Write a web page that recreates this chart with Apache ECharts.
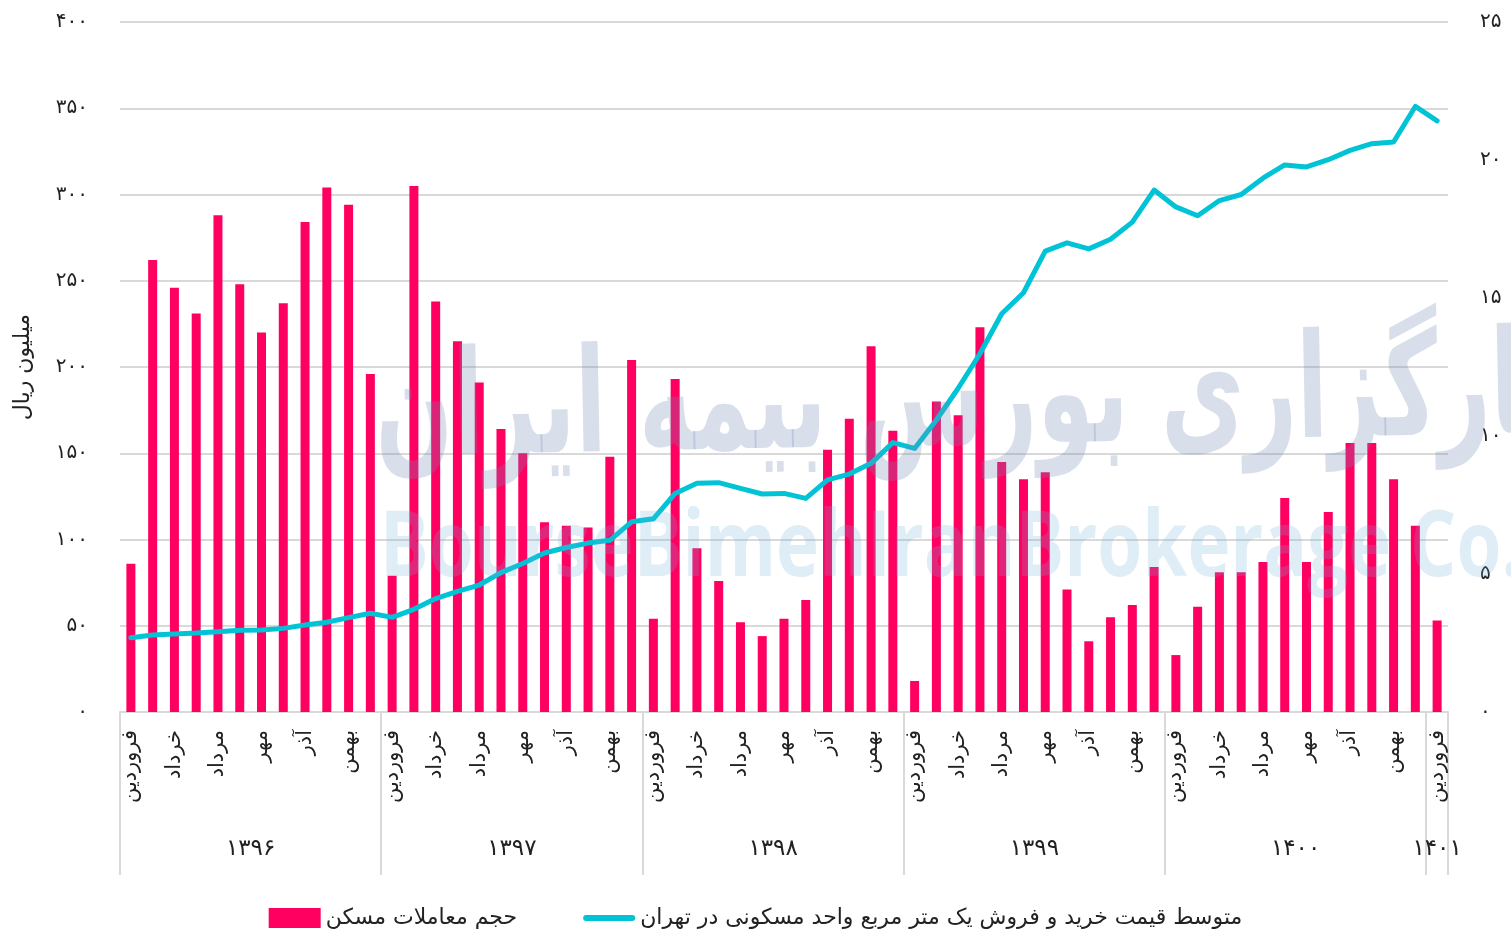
<!DOCTYPE html>
<html>
<head>
<meta charset="utf-8">
<script src="https://cdn.jsdelivr.net/npm/echarts@6/dist/echarts.min.js"></script>
<style>
  html, body { margin: 0; padding: 0; background: #fff; }
  #chart { width: 1511px; height: 929px; }
</style>
</head>
<body>
<div id="chart"></div>
<script>
// months and years
var monthNames = ['فروردین', 'اردیبهشت', 'خرداد', 'تیر', 'مرداد', 'شهریور', 'مهر', 'آبان', 'آذر', 'دی', 'بهمن', 'اسفند'];
var years = ['۱۳۹۶', '۱۳۹۷', '۱۳۹۸', '۱۳۹۹', '۱۴۰۰', '۱۴۰۱'];
var monthsInYear = [12, 12, 12, 12, 12, 1];

// حجم معاملات مسکن (left axis)
var dealVolume = [
  86, 262, 246, 231, 288, 248, 220, 237, 284, 304, 294, 196,
  79, 305, 238, 215, 191, 164, 150, 110, 108, 107, 148, 204,
  54, 193, 95, 76, 52, 44, 54, 65, 152, 170, 212, 163,
  18, 180, 172, 223, 145, 135, 139, 71, 41, 55, 62, 84,
  33, 61, 81, 81, 87, 124, 87, 116, 156, 156, 135, 108,
  53
];
// متوسط قیمت یک متر مربع (right axis)
var pricePerMeter = [
  2.69, 2.79, 2.83, 2.86, 2.91, 2.96, 2.97, 3.03, 3.15, 3.25, 3.42, 3.58,
  3.43, 3.72, 4.11, 4.37, 4.60, 5.05, 5.38, 5.76, 5.96, 6.12, 6.22, 6.89,
  7.00, 7.92, 8.29, 8.31, 8.10, 7.90, 7.92, 7.74, 8.41, 8.62, 9.01, 9.76,
  9.55, 10.58, 11.73, 12.98, 14.43, 15.19, 16.70, 17.00, 16.78, 17.13, 17.75, 18.91,
  18.30, 17.98, 18.53, 18.75, 19.34, 19.82, 19.75, 20.01, 20.35, 20.59, 20.65, 21.94,
  21.42
];

var barName = 'حجم معاملات مسکن';
var lineName = 'متوسط قیمت خرید و فروش یک متر مربع واحد مسکونی در تهران';
var yName = 'میلیون ریال';

var faFont = 'DejaVu Sans';
function toFa(v) {
  return String(v).replace(/\d/g, function (d) { return '۰۱۲۳۴۵۶۷۸۹'[d]; });
}

// category list (one per month)
var categories = [];
for (var y = 0; y < years.length; y++) {
  for (var m = 0; m < monthsInYear[y]; m++) categories.push(monthNames[m]);
}

// helper axis in half steps for year groups
var nHalf = categories.length * 2 + 1;
var yearAxisData = [];
var yearTickIdx = {};
var yearLabelIdx = {};
for (var i = 0; i < nHalf; i++) yearAxisData.push('');
var start = 0;
for (var y = 0; y < years.length; y++) {
  yearTickIdx[start * 2] = true;
  yearLabelIdx[start * 2 + monthsInYear[y]] = true;
  yearAxisData[start * 2 + monthsInYear[y]] = years[y];
  start += monthsInYear[y];
}
yearTickIdx[nHalf - 1] = true;

var chart = echarts.init(document.getElementById('chart'));

var option = {
  backgroundColor: '#fff',
  animation: false,
  grid: { left: 120, right: 63, top: 22, bottom: 217 },
  legend: {
    top: 902,
    left: 'center',
    itemWidth: 52,
    itemHeight: 20,
    itemGap: 66,
    textStyle: { fontFamily: faFont, fontSize: 22, color: '#222' },
    data: [
      { name: barName, icon: 'rect' },
      { name: lineName, icon: 'path://M3,0 L49,0 A3,3 0 0 1 49,6 L3,6 A3,3 0 0 1 3,0 Z' }
    ]
  },
  xAxis: [
    {
      type: 'category',
      data: categories,
      axisLine: { lineStyle: { color: '#d9d9d9', width: 2 } },
      axisTick: { show: false },
      axisLabel: {
        interval: 1,
        rotate: 90,
        margin: 18,
        fontFamily: faFont,
        fontSize: 21,
        color: '#222'
      }
    },
    {
      type: 'category',
      data: yearAxisData,
      position: 'bottom',
      boundaryGap: false,
      axisLine: { show: false },
      axisTick: {
        show: true,
        length: 163,
        interval: function (idx) { return !!yearTickIdx[idx]; },
        lineStyle: { color: '#d9d9d9', width: 2 }
      },
      axisLabel: {
        show: true,
        interval: function (idx) { return !!yearLabelIdx[idx]; },
        margin: 126,
        fontFamily: faFont,
        fontSize: 23,
        color: '#222'
      }
    }
  ],
  yAxis: [
    {
      type: 'value',
      min: 0,
      max: 400,
      interval: 50,
      name: yName,
      nameLocation: 'middle',
      nameGap: 86,
      nameRotate: 90,
      nameTextStyle: { fontFamily: faFont, fontSize: 22, color: '#222' },
      axisLine: { show: false },
      axisTick: { show: false },
      axisLabel: {
        margin: 32,
        fontFamily: faFont,
        fontSize: 20,
        color: '#222',
        formatter: function (v) { return toFa(v); }
      },
      splitLine: { lineStyle: { color: '#d9d9d9', width: 2 } }
    },
    {
      type: 'value',
      min: 0,
      max: 25,
      interval: 5,
      axisLine: { show: false },
      axisTick: { show: false },
      splitLine: { show: false },
      axisLabel: {
        margin: 32,
        fontFamily: faFont,
        fontSize: 20,
        color: '#222',
        formatter: function (v) { return toFa(v); }
      }
    }
  ],
  series: [
    {
      name: barName,
      type: 'bar',
      data: dealVolume,
      barWidth: 9,
      itemStyle: { color: '#ff0060' }
    },
    {
      name: lineName,
      type: 'line',
      yAxisIndex: 1,
      data: pricePerMeter,
      symbol: 'none',
      z: 3,
      lineStyle: { color: '#00c3d6', width: 5, cap: 'round', join: 'round' },
      itemStyle: { color: '#00c3d6' }
    }
  ],
  graphic: [
    {
      type: 'text',
      z: 100,
      x: 375,
      y: 418,
      scaleX: 0.63,
      rotation: 0.02,
      style: {
        text: 'کارگزاری بورس بیمه ایران',
        font: 'bold 145px "DejaVu Sans"',
        textAlign: 'left',
        textVerticalAlign: 'middle',
        fill: 'rgba(110, 135, 180, 0.27)'
      }
    },
    {
      type: 'text',
      z: 100,
      x: 380,
      y: 550,
      scaleX: 0.79,
      style: {
        text: 'BourseBimehIranBrokerage Co.',
        font: 'bold 92px "Open Sans"',
        textAlign: 'left',
        textVerticalAlign: 'middle',
        fill: 'rgba(110, 175, 220, 0.22)'
      }
    }
  ]
};

chart.setOption(option);
</script>
</body>
</html>
